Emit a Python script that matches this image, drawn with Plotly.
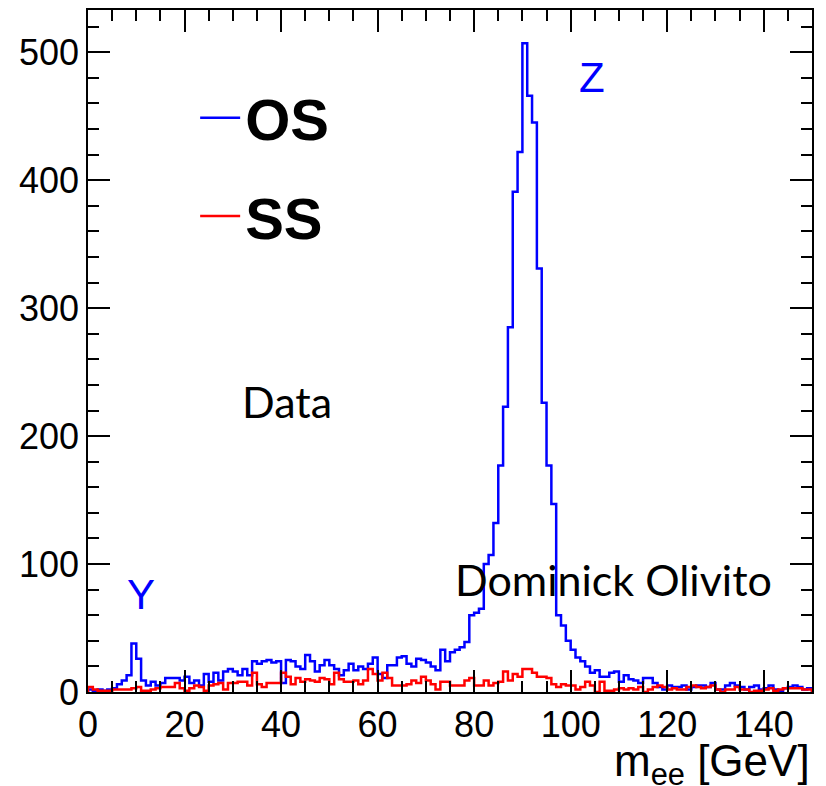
import plotly.graph_objects as go

# Histogram: m_ee in 1 GeV bins from 0 to 150
bin_lo = 0
bin_hi = 150
bin_width = 1

os_counts = [
    2, 1, 2, 1, 2, 3, 6, 9, 13, 38, 26, 9, 5, 8, 5, 7, 11, 11, 11, 9, 12, 7, 9, 5, 14,
    8, 15, 9, 16, 18, 16, 13, 18, 13, 24, 22, 24, 25, 23, 24, 7, 25, 24, 20, 18, 29, 24, 16, 21, 25,
    21, 18, 13, 17, 22, 17, 20, 18, 22, 27, 14, 11, 21, 21, 27, 28, 22, 20, 26, 25, 23, 20, 17, 33, 24,
    31, 33, 35, 39, 60, 62, 65, 100, 107, 132, 177, 223, 285, 391, 422, 507, 466, 445, 331, 226, 177, 147, 60, 52, 40,
    33, 27, 24, 20, 15, 17, 12, 12, 15, 16, 8, 13, 10, 9, 7, 11, 11, 7, 4, 2, 5, 4, 4, 5, 2,
    4, 5, 5, 4, 7, 2, 2, 5, 7, 5, 4, 2, 4, 5, 2, 3, 5, 2, 1, 3, 4, 5, 4, 2, 3,
]

ss_counts = [
    4, 2, 1, 1, 1, 2, 2, 2, 2, 3, 4, 1, 1, 2, 3, 4, 4, 4, 7, 3, 1, 3, 5, 4, 1,
    5, 6, 7, 2, 7, 7, 8, 8, 5, 15, 6, 4, 7, 7, 7, 15, 12, 6, 11, 8, 10, 9, 8, 11, 10,
    6, 15, 10, 8, 8, 9, 6, 9, 18, 14, 9, 15, 11, 5, 5, 5, 6, 9, 7, 12, 9, 6, 2, 8, 8,
    5, 5, 5, 9, 11, 5, 5, 9, 5, 7, 8, 16, 9, 14, 12, 18, 18, 15, 12, 12, 11, 6, 4, 6, 5,
    5, 2, 4, 8, 5, 0, 8, 1, 1, 2, 3, 2, 3, 2, 4, 0, 2, 4, 5, 4, 2, 3, 2, 2, 4,
    5, 4, 3, 4, 5, 2, 0, 2, 2, 4, 2, 2, 0, 1, 1, 2, 3, 1, 2, 3, 3, 3, 3, 2, 2,
]

series_names = ["<b>OS</b>", "<b>SS</b>"]
series_colors = ["#0000ff", "#ff0000"]

x_tickvals = [0, 20, 40, 60, 80, 100, 120, 140]
y_tickvals = [0, 100, 200, 300, 400, 500]

edges = [bin_lo + i * bin_width for i in range(len(os_counts) + 1)]


def step_xy(counts):
    xs = [edges[0]] + edges + [edges[-1]]
    ys = [0] + list(counts) + [counts[-1], 0]
    return xs, ys


fig = go.Figure()
for name, counts, color in zip(series_names, [os_counts, ss_counts], series_colors):
    xs, ys = step_xy(counts)
    fig.add_trace(go.Scatter(
        x=xs, y=ys, mode="lines", name=name, legendgroup=name,
        line=dict(color=color, width=2.5, shape="hv"),
    ))

tick_font = dict(family="Liberation Sans, Arial, sans-serif", size=36, color="black")

fig.update_layout(
    width=826, height=786,
    margin=dict(l=88, r=14, t=8, b=94),
    paper_bgcolor="white", plot_bgcolor="white",
    showlegend=True,
    legend=dict(
        x=0.148, y=0.907, xanchor="left", yanchor="top",
        font=dict(family="Liberation Sans, Arial, sans-serif", size=58, color="black"),
        bgcolor="rgba(0,0,0,0)", tracegroupgap=20, itemwidth=40,
    ),
    xaxis=dict(
        range=[bin_lo, bin_hi], tickvals=x_tickvals, ticks="inside", ticklen=22,
        tickwidth=1.5, tickcolor="black", showline=True, linecolor="black", linewidth=1.5,
        mirror="allticks", showgrid=False, zeroline=False, tickfont=tick_font,
        minor=dict(dtick=5, ticks="inside", ticklen=11, tickcolor="black", tickwidth=1.5, showgrid=False),
    ),
    yaxis=dict(
        range=[0, 533], tickvals=y_tickvals, ticks="inside", ticklen=22,
        tickwidth=1.5, tickcolor="black", showline=True, linecolor="black", linewidth=1.5,
        mirror="allticks", showgrid=False, zeroline=False, tickfont=tick_font,
        minor=dict(dtick=20, ticks="inside", ticklen=11, tickcolor="black", tickwidth=1.5, showgrid=False),
    ),
)

label_font = dict(family="Liberation Sans, Arial, sans-serif", size=42, color="#0000ff")
note_font = dict(family="Lato, Open Sans, sans-serif", size=43, color="black")

fig.add_annotation(x=104.4, y=480, text="Z", showarrow=False, font=label_font)
fig.add_annotation(x=11, y=76, text="Y", showarrow=False, font=label_font)
fig.add_annotation(x=41.2, y=227, text="Data", showarrow=False, font=note_font)
fig.add_annotation(x=108.8, y=88, text="Dominick Olivito", showarrow=False, font=note_font)
fig.add_annotation(
    xref="paper", yref="paper", x=1.0, y=-0.106, xanchor="right", yanchor="middle",
    text="m<sub>ee</sub> [GeV]", showarrow=False,
    font=dict(family="Liberation Sans, Arial, sans-serif", size=44, color="black"),
)

fig.write_html("out.html")
